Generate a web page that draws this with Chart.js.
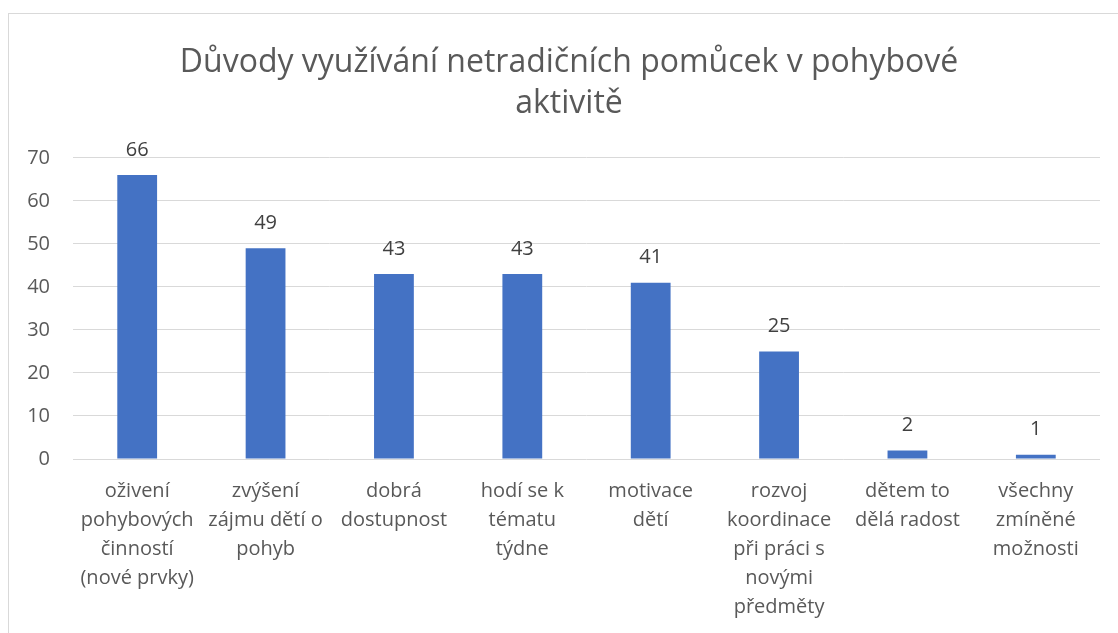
<!DOCTYPE html>
<html>
<head>
<meta charset="utf-8">
<script src="https://cdn.jsdelivr.net/npm/chart.js@4"></script>
<style>
    html, body { margin: 0; padding: 0; background: #fff; overflow: hidden; }
    #wrap { position: relative; width: 1118px; height: 633px; }
    #frame { position: absolute; left: 8px; top: 13px; width: 1200px; height: 700px; border: 1px solid #d9d9d9; box-sizing: border-box; }
    canvas { position: absolute; left: 0; top: 0; }
</style>
</head>
<body>
<div id="wrap">
    <div id="frame"></div>
    <canvas id="chart" width="1118" height="633"></canvas>
</div>
<script>
// data
const titleLines = ['Důvody využívání netradičních pomůcek v pohybové', 'aktivitě'];
const categories = [
    ['oživení', 'pohybových', 'činností', '(nové prvky)'],
    ['zvýšení', 'zájmu dětí o', 'pohyb'],
    ['dobrá', 'dostupnost'],
    ['hodí se k', 'tématu', 'týdne'],
    ['motivace', 'dětí'],
    ['rozvoj', 'koordinace', 'při práci s', 'novými', 'předměty'],
    ['dětem to', 'dělá radost'],
    ['všechny', 'zmíněné', 'možnosti']
];
const values = [66, 49, 43, 43, 41, 25, 2, 1];
const yTicks = [0, 10, 20, 30, 40, 50, 60, 70];

const FONT = '"Open Sans", Lato, sans-serif';

// popisky hodnot nad sloupci
const valueLabels = {
    id: 'valueLabels',
    afterDatasetsDraw(chart) {
        const ctx = chart.ctx;
        const meta = chart.getDatasetMeta(0);
        ctx.save();
        ctx.font = '20px ' + FONT;
        ctx.fillStyle = '#404040';
        ctx.textAlign = 'center';
        ctx.textBaseline = 'middle';
        meta.data.forEach((bar, i) => {
            ctx.fillText(String(values[i]), bar.x, bar.y - 25);
        });
        ctx.restore();
    }
};

// nadpis vycentrovat na ramecek (ten pokracuje za pravy okraj)
const titleShift = {
    id: 'titleShift',
    afterLayout(chart) {
        if (chart.titleBlock) {
            chart.titleBlock.left = 8;
            chart.titleBlock.right = 1130;
        }
    }
};

var ctx = document.getElementById('chart').getContext('2d');
new Chart(ctx, {
    type: 'bar',
    data: {
        labels: categories,
        datasets: [{
            data: values,
            backgroundColor: '#4472C4',
            borderWidth: 0,
            categoryPercentage: 1,
            barPercentage: 0.31
        }]
    },
    options: {
        responsive: false,
        animation: false,
        layout: { padding: { left: 10, right: 18, top: 0, bottom: 0 } },
        plugins: {
            legend: { display: false },
            tooltip: { enabled: false },
            title: {
                display: true,
                text: titleLines,
                color: '#595959',
                font: { family: FONT, size: 32, weight: 'normal', lineHeight: 1.28 },
                padding: { top: 42, bottom: 34 }
            }
        },
        scales: {
            x: {
                afterFit(scale) {
                    scale.height = 174;
                },
                grid: { display: false, drawTicks: false },
                border: { display: false },
                ticks: {
                    color: '#595959',
                    font: { family: FONT, size: 20, lineHeight: 1.45 },
                    padding: 18,
                    maxRotation: 0,
                    autoSkip: false
                }
            },
            y: {
                min: 0,
                max: 70,
                afterBuildTicks(scale) {
                    scale.ticks = yTicks.map(v => ({ value: v }));
                },
                afterFit(scale) {
                    scale.width = 63;
                },
                grid: { color: '#d9d9d9', lineWidth: 1, drawTicks: false },
                border: { display: false },
                ticks: {
                    color: '#595959',
                    font: { family: FONT, size: 20 },
                    padding: 23
                }
            }
        }
    },
    plugins: [valueLabels, titleShift]
});
</script>
</body>
</html>
